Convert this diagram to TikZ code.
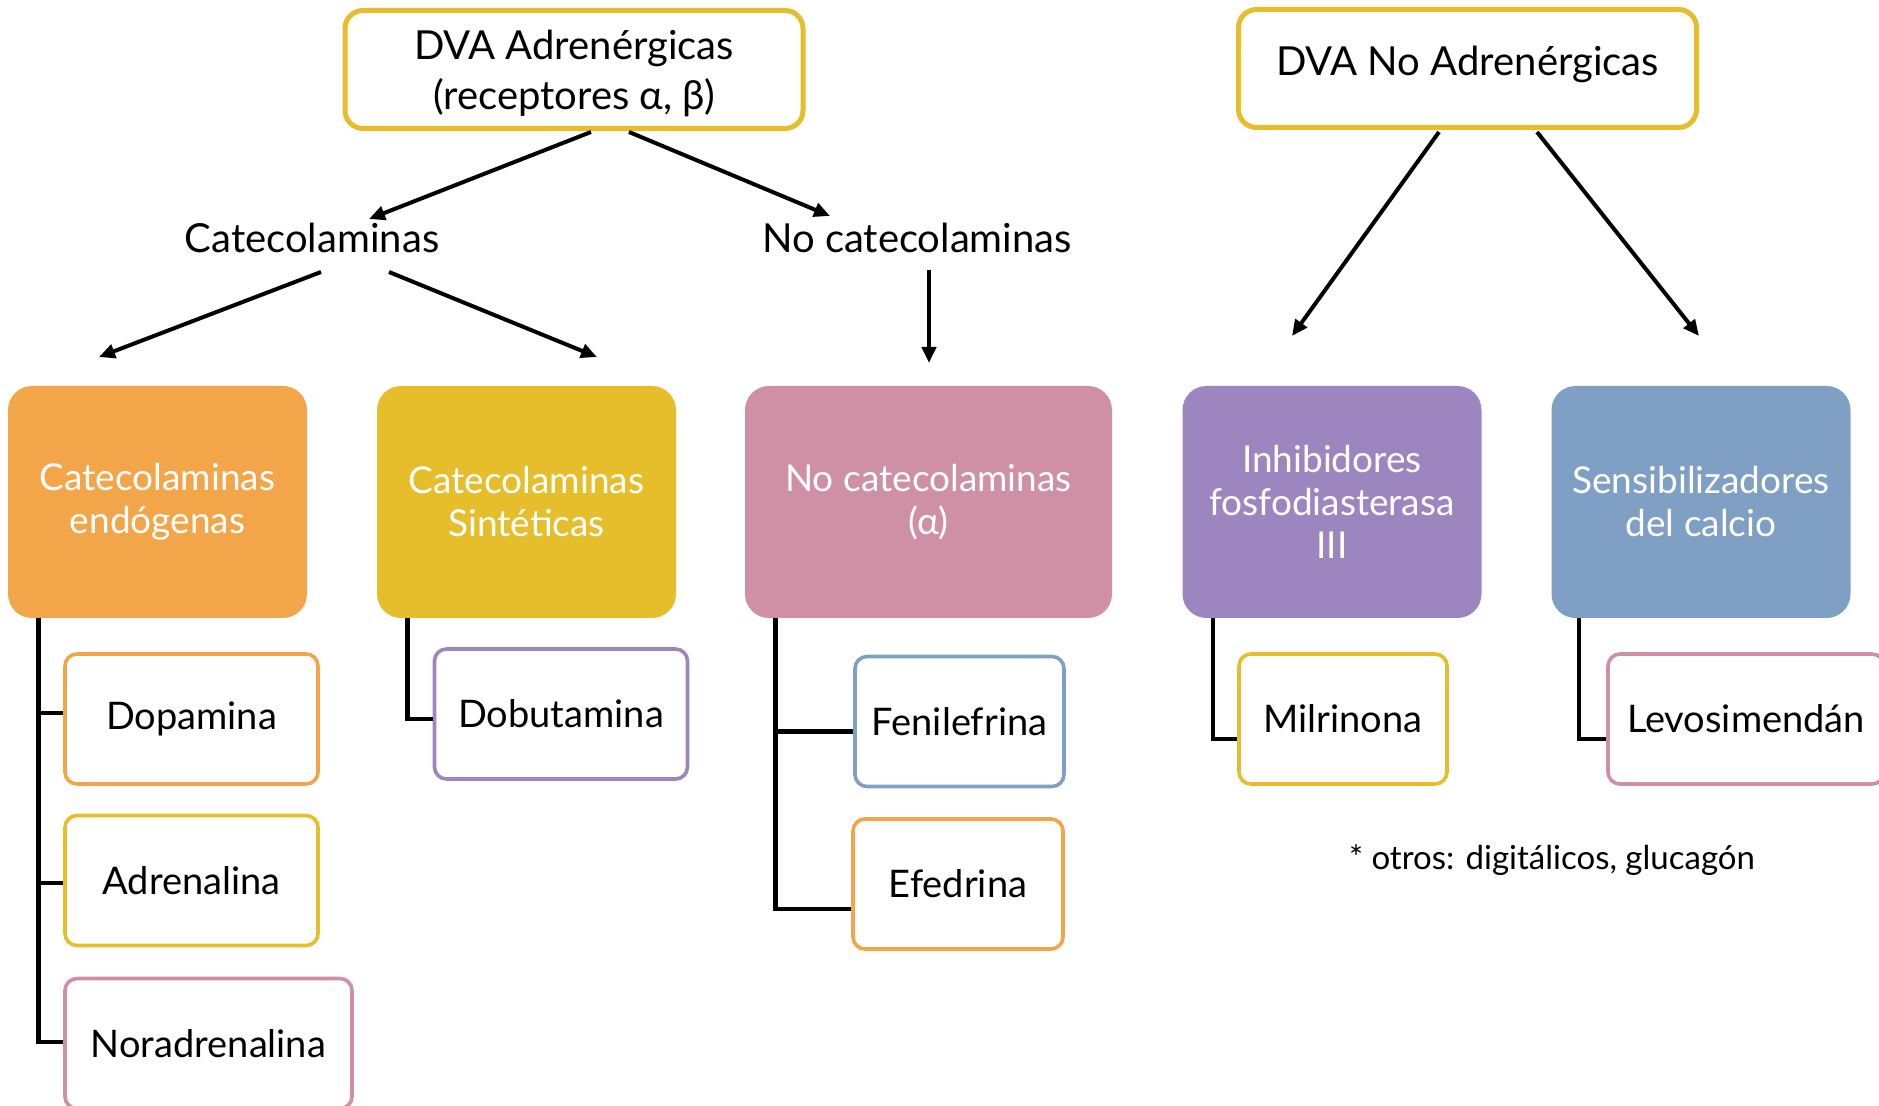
\documentclass[tikz,border=0pt]{standalone}
\usepackage{fontspec}
\setmainfont{Lato}
\usepackage{xcolor}
\usetikzlibrary{arrows.meta, positioning, calc}

\definecolor{dvaorange}{HTML}{F2A649}
\definecolor{dvayellow}{HTML}{E6BE2C}
\definecolor{dvapink}{HTML}{CF90A6}
\definecolor{dvapurple}{HTML}{9D86C0}
\definecolor{dvablue}{HTML}{7F9FC4}

\begin{document}
\begin{tikzpicture}[
    x=0.5pt, y=-0.5pt,
    topblock/.style={rectangle, draw=dvayellow, line width=2.5pt, fill=white, rounded corners=9pt, minimum width=229pt, minimum height=59pt, inner sep=0pt, align=center, font=\fontsize{20}{25}\selectfont},
    headtext/.style={inner sep=0pt, font=\fontsize{20}{24}\selectfont},
    catblock/.style={rectangle, draw=none, rounded corners=12pt, minimum width=149.5pt, minimum height=116pt, inner sep=0pt, align=center, text=white, font=\fontsize{18.5}{21.5}\selectfont},
    drugbox/.style={rectangle, line width=1.8pt, fill=white, rounded corners=6pt, minimum width=126.5pt, minimum height=65pt, inner sep=0pt, align=center, font=\fontsize{19}{23}\selectfont},
    arrow/.style={-{Triangle[length=8pt, width=7pt]}, line width=2pt},
    branch/.style={line width=2.2pt, line join=miter}
]
    \path[use as bounding box, fill=white] (0,0) rectangle (1879,1106);

    % top level
    \node[topblock] (adr) at (574,69.5) {\\[-6pt]DVA Adrenérgicas\\(receptores α, β)};
    \node[topblock] (nadr) at (1467.5,68.5) {\raisebox{8pt}{DVA No Adrenérgicas}};

    \node[headtext] (cat) at (312,238) {Catecolaminas};
    \node[headtext] (nocat) at (917,238) {No catecolaminas};

    % groups
    \node[catblock, fill=dvaorange] (endo) at (157.5,502) {Catecolaminas\\endógenas};
    \node[catblock, fill=dvayellow] (sint) at (526.5,502) {Catecolaminas\\Sintéticas};
    \node[catblock, fill=dvapink, minimum width=183.5pt] (nocb) at (928.5,502) {No catecolaminas\\(α)};
    \node[catblock, fill=dvapurple] (inhib) at (1332,502) {Inhibidores\\fosfodiasterasa\\III};
    \node[catblock, fill=dvablue] (sens) at (1701,502) {Sensibilizadores\\del calcio};

    % drugs
    \node[drugbox, draw=dvaorange] (dopa) at (191.5,719) {Dopamina};
    \node[drugbox, draw=dvayellow] (adre) at (191.5,880.5) {Adrenalina};
    \node[drugbox, draw=dvapink, minimum width=143.5pt] (nora) at (208.5,1043.5) {Noradrenalina};
    \node[drugbox, draw=dvapurple] (dobu) at (561,714) {Dobutamina};
    \node[drugbox, draw=dvablue, minimum width=104.5pt] (feni) at (959.5,721.5) {Fenilefrina};
    \node[drugbox, draw=dvaorange, minimum width=105pt] (efed) at (958,884) {Efedrina};
    \node[drugbox, draw=dvayellow, minimum width=104pt] (milr) at (1343,719) {Milrinona};
    \node[drugbox, draw=dvapink, minimum width=138pt] (levo) at (1746,719) {Levosimendán};

    \node[inner sep=0pt, font=\fontsize{16.5}{19}\selectfont] (otros) at (1552,860) {* otros: digitálicos, glucagón};

    % arrows
    \draw[arrow] ($(adr.center)+(17,62.5)$) -- ($(cat.center)+(57,-19)$);
    \draw[arrow] ($(adr.center)+(55,62.5)$) -- ($(nocat.center)+(-87,-22)$);
    \draw[arrow] ($(cat.center)+(9,34)$) -- ($(endo.center)+(-58.5,-145)$);
    \draw[arrow] ($(cat.center)+(77,34)$) -- ($(sint.center)+(70.5,-145)$);
    \draw[arrow] ($(nocat.center)+(12,32)$) -- ($(nocb.center)+(0.5,-139)$);
    \draw[arrow] ($(nadr.center)+(-28.5,63.5)$) -- ($(inhib.center)+(-40,-166)$);
    \draw[arrow] ($(nadr.center)+(69.5,63.5)$) -- ($(sens.center)+(-2,-166)$);

    % branches
    \coordinate (endotrunk) at ($(endo.south west)+(31,0)$);
    \coordinate (sinttrunk) at ($(sint.south west)+(31,0)$);
    \coordinate (nocbtrunk) at ($(nocb.south west)+(31,0)$);
    \coordinate (inhibtrunk) at ($(inhib.south west)+(31,0)$);
    \coordinate (senstrunk) at ($(sens.south west)+(28,0)$);

    \draw[branch] (endotrunk) |- ($(nora.west)+(0,-1.5)$);
    \draw[branch] ($(endotrunk |- dopa.west)+(0,-6)$) -- ($(dopa.west)+(0,-6)$);
    \draw[branch] ($(endotrunk |- adre.west)+(0,2.5)$) -- ($(adre.west)+(0,2.5)$);
    \draw[branch] (sinttrunk) |- ($(dobu.west)+(0,5)$);
    \draw[branch] (nocbtrunk) |- ($(efed.west)+(0,25)$);
    \draw[branch] ($(nocbtrunk |- feni.west)+(0,10)$) -- ($(feni.west)+(0,10)$);
    \draw[branch] (inhibtrunk) |- ($(milr.west)+(0,20)$);
    \draw[branch] (senstrunk) |- ($(levo.west)+(0,20)$);
\end{tikzpicture}
\end{document}
